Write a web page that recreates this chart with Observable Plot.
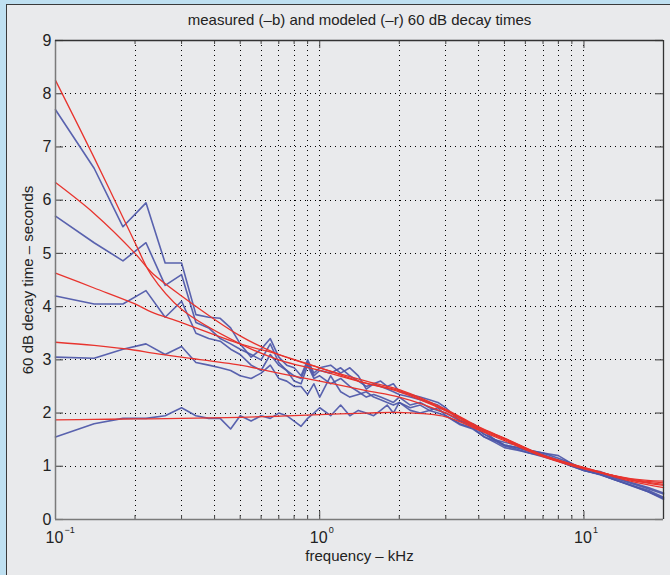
<!DOCTYPE html>
<html><head><meta charset="utf-8">
<script src="https://cdn.jsdelivr.net/npm/d3@7"></script>
<script src="https://cdn.jsdelivr.net/npm/@observablehq/plot@0.6"></script>
<style>
html,body{margin:0;padding:0;background:#bfe0f1;}
#wrap{position:relative;width:670px;height:575px;overflow:hidden;}
#panel{position:absolute;left:6px;top:4px;width:664px;height:571px;background:#e9eaec;border-left:1.5px solid #3a3a3a;border-top:1.5px solid #3a3a3a;box-sizing:border-box;}
#chart{position:absolute;left:0;top:0;}
#chart g.grid line{shape-rendering:crispEdges;}
</style></head><body>
<div id="wrap"><div id="panel"></div><div id="chart"></div></div>
<script>
// ---- data ----
const title = "measured (\u2013b) and modeled (\u2013r) 60 dB decay times";
const xLabel = "frequency \u2013 kHz";
const yLabel = "60 dB decay time \u2013 seconds";
const yTicks = [0,1,2,3,4,5,6,7,8,9];
const xMajor = [0.1, 1, 10];
const xMinor = [0.2,0.3,0.4,0.5,0.6,0.7,0.8,0.9,2,3,4,5,6,7,8,9];
const xGrid = [0.2,0.3,0.4,0.5,0.6,0.7,0.8,0.9,1,2,3,4,5,6,7,8,9,10];
const yGrid = [1,2,3,4,5,6,7,8];
const xTickBase = ["10","10","10"];
const xTickExp = ["\u22121","0","1"];

// modeled (red) curves
const fR = [0.1, 0.14, 0.2, 0.23, 0.3, 0.5, 0.7, 1, 1.5, 2, 3, 4, 5, 7, 10, 15, 20];
const red1 = [8.25, 6.8, 5.2, 4.6, 3.95, 3.3, 3.0, 2.8, 2.56, 2.42, 2.05, 1.73, 1.52, 1.2, 0.97, 0.72, 0.6];
const red2 = [6.33, 5.75, 5.0, 4.65, 4.2, 3.45, 3.1, 2.85, 2.6, 2.44, 2.07, 1.74, 1.53, 1.21, 0.98, 0.74, 0.64];
const red3 = [4.63, 4.35, 4.05, 3.9, 3.7, 3.3, 3.1, 2.85, 2.56, 2.4, 2.04, 1.72, 1.52, 1.2, 0.97, 0.75, 0.66];
const red4 = [3.33, 3.27, 3.18, 3.13, 3.05, 2.9, 2.75, 2.6, 2.42, 2.3, 2.0, 1.7, 1.5, 1.19, 0.96, 0.76, 0.69];
const red5 = [1.87, 1.88, 1.89, 1.89, 1.9, 1.92, 1.94, 1.97, 2.0, 2.01, 1.93, 1.68, 1.48, 1.18, 0.95, 0.77, 0.72];

// measured (blue) curves
const fB = [0.1,0.14,0.18,0.22,0.26,0.3,0.34,0.38,0.42,0.46,0.5,0.55,0.6,0.65,0.7,0.75,0.8,0.85,0.9,0.95,1.0,1.1,1.2,1.3,1.4,1.5,1.6,1.7,1.8,1.9,2.0,2.2,2.4,2.6,2.8,3.0,3.4,3.8,4.2,4.6,5.0,5.6,6.2,7,8,9,10,11.5,13,15,17.5,20];
const blue1 = [7.7,6.6,5.5,5.95,4.82,4.82,3.85,3.8,3.78,3.6,3.3,3.05,3.2,3.4,3.05,2.9,2.85,2.7,3.0,2.75,2.85,2.9,2.75,2.85,2.7,2.45,2.55,2.6,2.5,2.55,2.4,2.35,2.3,2.25,2.2,2.1,1.85,1.8,1.65,1.5,1.45,1.4,1.3,1.25,1.2,1.05,0.95,0.9,0.8,0.7,0.6,0.5];
const blue2 = [5.7,5.2,4.86,5.2,4.4,4.6,3.7,3.6,3.4,3.3,3.2,3.1,3.0,3.3,2.95,2.8,2.7,2.65,2.95,2.7,2.8,2.75,2.85,2.7,2.6,2.5,2.55,2.5,2.45,2.4,2.35,2.3,2.25,2.2,2.15,2.05,1.9,1.78,1.6,1.5,1.4,1.35,1.3,1.25,1.15,1.05,0.95,0.88,0.78,0.68,0.58,0.48];
const blue3 = [4.2,4.05,4.05,4.3,3.8,4.1,3.5,3.4,3.35,3.2,3.1,2.9,2.8,3.1,2.9,2.8,2.6,2.55,2.9,2.65,2.7,2.55,2.65,2.5,2.4,2.3,2.35,2.3,2.25,2.2,2.3,2.15,2.2,2.1,2.05,2.0,1.85,1.75,1.6,1.5,1.4,1.35,1.28,1.22,1.12,1.02,0.92,0.85,0.75,0.65,0.55,0.42];
const blue4 = [3.05,3.03,3.2,3.3,3.1,3.25,2.95,2.9,2.85,2.8,2.7,2.65,2.75,2.9,2.65,2.6,2.5,2.5,2.35,2.55,2.3,2.7,2.4,2.3,2.35,2.4,2.3,2.25,2.2,2.15,2.2,2.1,2.15,2.05,2.0,1.95,1.8,1.72,1.55,1.48,1.38,1.32,1.25,1.2,1.1,1.0,0.92,0.85,0.75,0.65,0.52,0.4];
const blue5 = [1.55,1.8,1.9,1.9,1.95,2.1,1.95,1.9,1.9,1.7,1.95,1.85,1.95,1.9,2.0,1.95,1.85,1.75,1.9,2.0,2.1,1.95,2.15,1.95,2.05,2.0,1.95,2.05,2.15,2.0,2.2,2.05,2.0,2.05,2.1,1.95,1.78,1.7,1.55,1.45,1.35,1.3,1.25,1.18,1.1,1.0,0.92,0.84,0.75,0.64,0.52,0.38];

// ---- build tables ----
const reds = [red1, red2, red3, red4, red5];
const blues = [blue1, blue2, blue3, blue4, blue5];
const redRows = reds.flatMap((arr, i) => arr.map((v, j) => ({id: i, f: fR[j], v})));
const blueRows = blues.flatMap((arr, i) => arr.map((v, j) => ({id: i, f: fB[j], v})));
const xTickRows = xMajor.map((f, i) => ({f, base: xTickBase[i], exp: xTickExp[i]}));

const FONT = "'Liberation Sans', Arial, Helvetica, sans-serif";
const dash = "1,4";

const chart = Plot.plot({
  width: 670, height: 575,
  marginLeft: 55, marginRight: 7, marginTop: 40, marginBottom: 56,
  style: {background: "transparent", fontFamily: FONT, fontSize: "16px", color: "#222", overflow: "visible"},
  x: {type: "log", domain: [0.1, 20], axis: null},
  y: {domain: [0, 9], axis: null},
  marks: [
    Plot.ruleX(xGrid, {stroke: "#000", strokeWidth: 1, strokeDasharray: dash, className: "grid"}),
    Plot.ruleY(yGrid, {stroke: "#000", strokeWidth: 1, strokeDasharray: dash, className: "grid"}),
    // ticks
    Plot.tickY(yTicks, {y: d => d, insetRight: 600, stroke: "#555", strokeWidth: 1.2}),
    Plot.tickY(yTicks, {y: d => d, insetLeft: 600, stroke: "#555", strokeWidth: 1.2}),
    Plot.tickX(xMajor, {x: d => d, insetTop: 471, stroke: "#444"}),
    Plot.tickX(xMajor, {x: d => d, insetBottom: 471, stroke: "#444"}),
    Plot.tickX(xMinor, {x: d => d, insetTop: 475, stroke: "#444"}),
    Plot.tickX(xMinor, {x: d => d, insetBottom: 475, stroke: "#444"}),
    // data
    Plot.line(blueRows, {x: "f", y: "v", z: "id", stroke: "#4c56a8", strokeWidth: 1.6, strokeOpacity: 0.92}),
    Plot.line(redRows, {x: "f", y: "v", z: "id", stroke: "#e8342e", strokeWidth: 1.3, curve: "catmull-rom"}),
    // frame
    Plot.ruleX([0.1], {stroke: "#7a7a7a", strokeWidth: 1.5}),
    Plot.ruleY([0], {stroke: "#7a7a7a", strokeWidth: 1.5}),
    Plot.ruleX([20], {stroke: "#333", strokeWidth: 1.3}),
    Plot.ruleY([9], {stroke: "#333", strokeWidth: 1.3}),
    // labels
    Plot.text(yTicks, {y: d => d, frameAnchor: "left", dx: -4, textAnchor: "end", lineAnchor: "middle", text: d => String(d), fontSize: 16, fill: "#222"}),
    Plot.text(xTickRows, {x: "f", frameAnchor: "bottom", dy: 18, dx: -1, text: "base", textAnchor: "middle", lineAnchor: "middle", fontSize: 16, fill: "#222"}),
    Plot.text(xTickRows, {x: "f", frameAnchor: "bottom", dy: 11, dx: 9, text: "exp", textAnchor: "start", lineAnchor: "middle", fontSize: 9, fill: "#222"}),
    Plot.text([title], {frameAnchor: "top", dy: -20, textAnchor: "middle", lineAnchor: "middle", fontSize: 15, fill: "#222"}),
    Plot.text([xLabel], {frameAnchor: "bottom", dy: 37, textAnchor: "middle", lineAnchor: "middle", fontSize: 15, fill: "#222"}),
    Plot.text([yLabel], {frameAnchor: "left", dx: -27, rotate: -90, textAnchor: "middle", lineAnchor: "middle", fontSize: 15, fill: "#222"})
  ]
});
document.getElementById("chart").appendChild(chart);
</script>
</body></html>
